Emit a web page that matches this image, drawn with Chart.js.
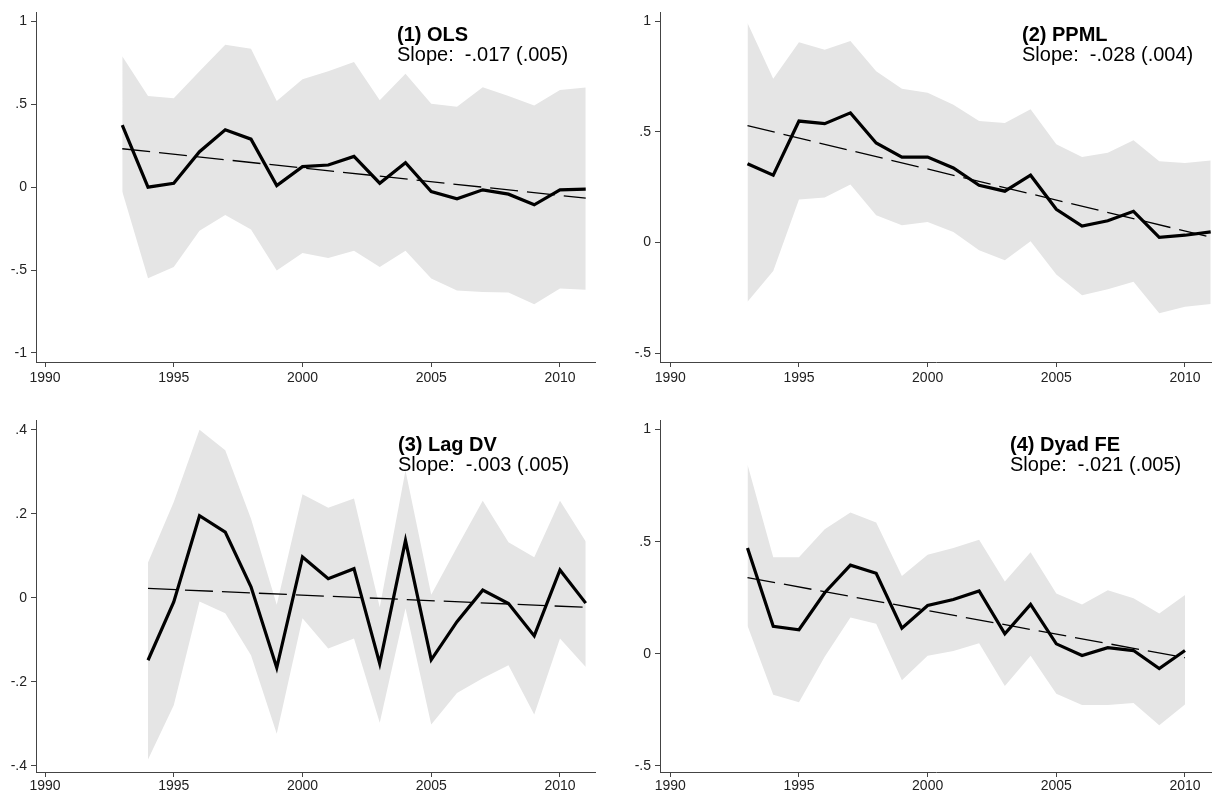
<!DOCTYPE html>
<html>
<head>
<meta charset="utf-8">
<script src="https://cdn.jsdelivr.net/npm/chart.js@4.4.0/dist/chart.umd.min.js"></script>
<style>
  body { margin: 0; background: #fff; }
  #wrap { position: relative; width: 1212px; height: 793px; overflow: hidden; }
  canvas { position: absolute; }
</style>
</head>
<body>
<div id="wrap">
  <canvas id="p1" width="606" height="396" style="left:0;top:0"></canvas>
  <canvas id="p2" width="606" height="396" style="left:606px;top:0"></canvas>
  <canvas id="p3" width="606" height="397" style="left:0;top:396px"></canvas>
  <canvas id="p4" width="606" height="397" style="left:606px;top:396px"></canvas>
</div>
<script>
// years
const years93to11 = [1993, 1994, 1995, 1996, 1997, 1998, 1999, 2000, 2001, 2002, 2003, 2004, 2005, 2006, 2007, 2008, 2009, 2010, 2011];
const years94to11 = [1994, 1995, 1996, 1997, 1998, 1999, 2000, 2001, 2002, 2003, 2004, 2005, 2006, 2007, 2008, 2009, 2010, 2011];
const years93to10 = [1993, 1994, 1995, 1996, 1997, 1998, 1999, 2000, 2001, 2002, 2003, 2004, 2005, 2006, 2007, 2008, 2009, 2010];
const xTickYears = [1990, 1995, 2000, 2005, 2010];

// (1) OLS
const olsCoef  = [0.375, 0.0, 0.024, 0.214, 0.347, 0.29, 0.01, 0.124, 0.134, 0.186, 0.024, 0.148, -0.026, -0.07, -0.016, -0.042, -0.106, -0.016, -0.012];
const olsUpper = [0.79, 0.551, 0.537, 0.70, 0.86, 0.836, 0.521, 0.651, 0.70, 0.755, 0.525, 0.685, 0.503, 0.485, 0.603, 0.551, 0.493, 0.587, 0.601];
const olsLower = [-0.026, -0.549, -0.481, -0.263, -0.168, -0.256, -0.503, -0.397, -0.427, -0.383, -0.481, -0.383, -0.551, -0.623, -0.633, -0.635, -0.707, -0.611, -0.619];
const olsTrendYears = [1993, 2011];
const olsTrend = [0.232, -0.066];
const olsYTicks = [-1, -0.5, 0, 0.5, 1];

// (2) PPML
const ppmlCoef  = [0.356, 0.304, 0.549, 0.537, 0.586, 0.45, 0.386, 0.386, 0.337, 0.259, 0.232, 0.304, 0.15, 0.074, 0.098, 0.141, 0.023, 0.033, 0.048];
const ppmlUpper = [0.992, 0.74, 0.905, 0.871, 0.911, 0.774, 0.695, 0.677, 0.623, 0.549, 0.54, 0.602, 0.444, 0.386, 0.406, 0.462, 0.367, 0.359, 0.371];
const ppmlLower = [-0.268, -0.129, 0.194, 0.203, 0.262, 0.123, 0.078, 0.093, 0.048, -0.035, -0.08, 0.006, -0.144, -0.238, -0.211, -0.177, -0.32, -0.29, -0.278];
const ppmlTrendYears = [1993, 2011];
const ppmlTrend = [0.528, 0.024];
const ppmlYTicks = [-0.5, 0, 0.5, 1];

// (3) Lag DV
const lagCoef  = [-0.149, -0.01, 0.195, 0.156, 0.026, -0.167, 0.097, 0.045, 0.069, -0.157, 0.136, -0.148, -0.057, 0.018, -0.014, -0.091, 0.066, -0.013];
const lagUpper = [0.084, 0.228, 0.40, 0.351, 0.188, -0.017, 0.246, 0.214, 0.236, -0.023, 0.303, 0.007, 0.12, 0.231, 0.132, 0.096, 0.231, 0.134];
const lagLower = [-0.385, -0.256, -0.009, -0.037, -0.137, -0.324, -0.049, -0.121, -0.097, -0.298, -0.025, -0.302, -0.227, -0.192, -0.161, -0.278, -0.097, -0.165];
const lagTrendYears = [1994, 2011];
const lagTrend = [0.022, -0.023];
const lagYTicks = [-0.4, -0.2, 0, 0.2, 0.4];

// (4) Dyad FE
const dyadCoef  = [0.472, 0.122, 0.107, 0.272, 0.395, 0.359, 0.114, 0.215, 0.242, 0.28, 0.089, 0.22, 0.044, -0.008, 0.027, 0.014, -0.066, 0.014];
const dyadUpper = [0.844, 0.43, 0.43, 0.555, 0.63, 0.585, 0.347, 0.442, 0.472, 0.508, 0.322, 0.453, 0.269, 0.22, 0.283, 0.247, 0.179, 0.262];
const dyadLower = [0.125, -0.183, -0.217, -0.014, 0.162, 0.134, -0.119, -0.009, 0.012, 0.047, -0.144, -0.009, -0.179, -0.229, -0.229, -0.22, -0.319, -0.227];
const dyadTrendYears = [1993, 2010];
const dyadTrend = [0.34, -0.018];
const dyadYTicks = [-0.5, 0, 0.5, 1];

const FONT = '"Liberation Sans", Arial, Helvetica, sans-serif';
const AXIS = '#444';

function pts(xs, ys) {
  return xs.map((x, i) => ({ x: x, y: ys[i] }));
}

function stataNum(v) {
  return String(v).replace('0.', '.');
}

const notePlugin = {
  id: 'note',
  afterDraw(chart, args, opts) {
    const ctx = chart.ctx;
    ctx.save();
    ctx.fillStyle = '#000';
    ctx.textAlign = 'left';
    ctx.textBaseline = 'alphabetic';
    ctx.font = 'bold 20px ' + FONT;
    ctx.fillText(opts.title, opts.x, opts.y);
    ctx.font = '20px ' + FONT;
    ctx.fillText(opts.slope, opts.x, opts.y + 20);
    ctx.restore();
  }
};

function makePanel(id, p) {
  new Chart(document.getElementById(id), {
    type: 'line',
    data: {
      datasets: [
        { data: pts(p.years, p.upper), borderWidth: 0, pointRadius: 0, fill: '+1', backgroundColor: '#e5e5e5', order: 3 },
        { data: pts(p.years, p.lower), borderWidth: 0, pointRadius: 0, fill: false, order: 4 },
        { data: pts(p.trendYears, p.trend), borderColor: '#000', borderWidth: 1.3, borderDash: [28, 9], pointRadius: 0, fill: false, order: 2 },
        { data: pts(p.years, p.coef), borderColor: '#000', borderWidth: 3.2, pointRadius: 0, fill: false, order: 1, borderJoinStyle: 'miter' }
      ]
    },
    options: {
      responsive: false,
      animation: false,
      devicePixelRatio: 1,
      layout: { padding: { top: p.padTop, right: p.padRight, left: 0, bottom: 0 } },
      plugins: {
        legend: { display: false },
        tooltip: { enabled: false },
        note: { title: p.title, slope: p.slope, x: p.noteX, y: p.noteY }
      },
      scales: {
        x: {
          type: 'linear',
          min: p.xMin, max: p.xMax,
          afterBuildTicks: s => { s.ticks = xTickYears.map(v => ({ value: v })); },
          afterFit: s => { s.height = p.xHeight; },
          grid: { display: true, drawOnChartArea: false, drawTicks: true, tickLength: 5, tickColor: AXIS },
          border: { display: true, color: AXIS, width: 1 },
          ticks: { color: '#222', font: { size: 14, family: FONT }, padding: p.xPad, maxRotation: 0, autoSkip: false, callback: v => String(v) }
        },
        y: {
          type: 'linear',
          min: p.yMin, max: p.yMax,
          afterBuildTicks: s => { s.ticks = p.yTicks.map(v => ({ value: v })); },
          afterFit: s => { s.width = p.yWidth; },
          grid: { display: true, drawOnChartArea: false, drawTicks: true, tickLength: 5, tickColor: AXIS },
          border: { display: true, color: AXIS, width: 1 },
          ticks: { color: '#222', font: { size: 14, family: FONT }, padding: 4, autoSkip: false, callback: v => stataNum(v) }
        }
      }
    },
    plugins: [notePlugin]
  });
}

makePanel('p1', {
  years: years93to11, coef: olsCoef, upper: olsUpper, lower: olsLower,
  trendYears: olsTrendYears, trend: olsTrend, yTicks: olsYTicks,
  yMin: -1.055, yMax: 1.055, xMin: 1989.65, xMax: 2011.36,
  padTop: 10, padRight: 11, xHeight: 34, yWidth: 36, xPad: 3,
  title: '(1) OLS', slope: 'Slope:  -.017 (.005)', noteX: 397, noteY: 41
});

makePanel('p2', {
  years: years93to11, coef: ppmlCoef, upper: ppmlUpper, lower: ppmlLower,
  trendYears: ppmlTrendYears, trend: ppmlTrend, yTicks: ppmlYTicks,
  yMin: -0.54, yMax: 1.04, xMin: 1989.6, xMax: 2011.05,
  padTop: 10, padRight: 0, xHeight: 34, yWidth: 54, xPad: 3,
  title: '(2) PPML', slope: 'Slope:  -.028 (.004)', noteX: 416, noteY: 41
});

makePanel('p3', {
  years: years94to11, coef: lagCoef, upper: lagUpper, lower: lagLower,
  trendYears: lagTrendYears, trend: lagTrend, yTicks: lagYTicks,
  yMin: -0.415, yMax: 0.423, xMin: 1989.65, xMax: 2011.36,
  padTop: 24, padRight: 11, xHeight: 21, yWidth: 36, xPad: 1,
  title: '(3) Lag DV', slope: 'Slope:  -.003 (.005)', noteX: 398, noteY: 55
});

makePanel('p4', {
  years: years93to10, coef: dyadCoef, upper: dyadUpper, lower: dyadLower,
  trendYears: dyadTrendYears, trend: dyadTrend, yTicks: dyadYTicks,
  yMin: -0.528, yMax: 1.043, xMin: 1989.6, xMax: 2011.05,
  padTop: 24, padRight: 0, xHeight: 21, yWidth: 54, xPad: 1,
  title: '(4) Dyad FE', slope: 'Slope:  -.021 (.005)', noteX: 404, noteY: 55
});
</script>
</body>
</html>
